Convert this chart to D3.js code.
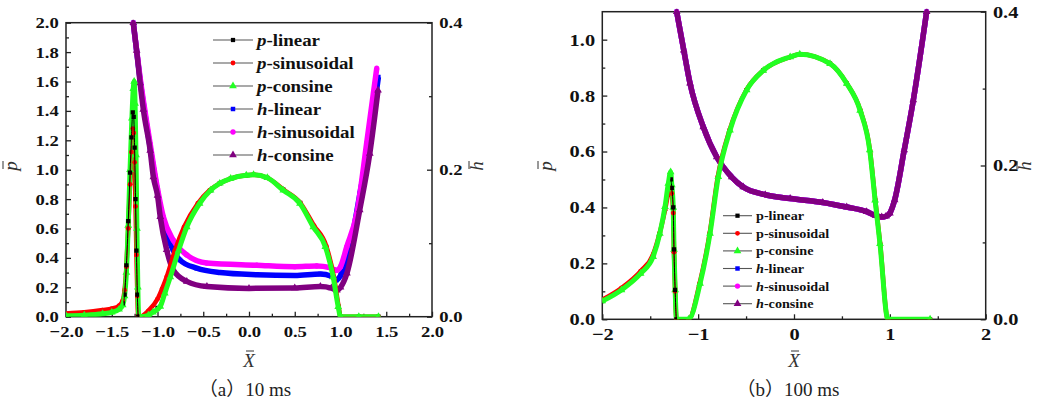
<!DOCTYPE html>
<html><head><meta charset="utf-8">
<script src="https://cdn.jsdelivr.net/npm/d3@7"></script>
<style>body{margin:0;background:#fff}svg{display:block}</style>
</head><body>
<svg id="chart" width="1043" height="403"></svg>
<script>
// ---------- Panel (a) 10 ms : [X, value] ----------
const aPLinear = [[-2.0,0.01],[-1.8,0.018],[-1.6,0.03],[-1.5,0.04],[-1.42,0.06],[-1.38,0.09],[-1.36,0.15],[-1.34,0.35],[-1.32,0.65],[-1.30,0.98],[-1.285,1.22],[-1.27,1.39],[-1.26,1.36],[-1.25,1.15],[-1.24,0.8],[-1.23,0.45],[-1.22,0.15],[-1.21,0.0],[-1.19,0.0],[-1.1,0.015],[-1.0,0.06],[-0.93,0.16],[-0.87,0.27],[-0.78,0.45],[-0.69,0.61],[-0.55,0.77],[-0.42,0.86],[-0.32,0.907],[-0.2,0.94],[-0.03,0.962],[0.05,0.965],[0.2,0.945],[0.375,0.865],[0.56,0.775],[0.71,0.615],[0.84,0.48],[0.925,0.27],[0.978,0.068],[1.0,0.0],[1.2,0.0],[1.415,0.0]];
const aPSinusoidal = [[-2.0,0.022],[-1.8,0.03],[-1.6,0.045],[-1.5,0.055],[-1.42,0.075],[-1.38,0.11],[-1.36,0.18],[-1.34,0.34],[-1.32,0.6],[-1.30,0.9],[-1.285,1.12],[-1.27,1.28],[-1.26,1.25],[-1.25,1.05],[-1.24,0.75],[-1.23,0.42],[-1.22,0.14],[-1.21,0.0],[-1.19,0.0],[-1.1,0.04],[-1.0,0.12],[-0.95,0.19],[-0.9,0.27],[-0.81,0.45],[-0.71,0.61],[-0.56,0.77],[-0.43,0.86],[-0.32,0.907],[-0.2,0.94],[-0.03,0.962],[0.05,0.965],[0.2,0.945],[0.375,0.865],[0.56,0.775],[0.71,0.62],[0.845,0.48],[0.928,0.27],[0.98,0.068],[1.0,0.0],[1.2,0.0],[1.415,0.0]];
const aPConsine = [[-2.0,0.006],[-1.8,0.01],[-1.6,0.02],[-1.5,0.03],[-1.42,0.05],[-1.38,0.08],[-1.36,0.14],[-1.34,0.3],[-1.32,0.62],[-1.30,1.0],[-1.28,1.35],[-1.265,1.55],[-1.255,1.6],[-1.245,1.45],[-1.235,1.1],[-1.225,0.6],[-1.215,0.2],[-1.205,0.0],[-1.19,0.0],[-1.1,0.01],[-1.05,0.03],[-0.97,0.07],[-0.92,0.16],[-0.86,0.27],[-0.77,0.45],[-0.68,0.61],[-0.54,0.77],[-0.42,0.86],[-0.32,0.907],[-0.2,0.94],[-0.03,0.962],[0.05,0.965],[0.2,0.945],[0.375,0.86],[0.557,0.77],[0.703,0.61],[0.834,0.476],[0.92,0.27],[0.975,0.068],[1.0,0.0],[1.2,0.0],[1.415,0.0]];
const aHLinear = [[-1.265,0.4],[-1.19,0.322],[-1.08,0.23],[-1.0,0.17],[-0.94,0.13],[-0.863,0.1],[-0.754,0.077],[-0.572,0.066],[-0.317,0.06],[0.085,0.057],[0.5,0.056],[0.78,0.058],[0.9,0.055],[0.958,0.05],[1.0,0.056],[1.104,0.095],[1.213,0.168],[1.322,0.244],[1.414,0.326]];
const aHSinusoidal = [[-1.265,0.4],[-1.19,0.325],[-1.08,0.235],[-1.0,0.174],[-0.937,0.136],[-0.827,0.104],[-0.68,0.084],[-0.462,0.073],[0.085,0.07],[0.5,0.068],[0.74,0.069],[0.88,0.067],[0.94,0.0636],[0.96,0.063],[1.0,0.068],[1.068,0.095],[1.177,0.14],[1.286,0.236],[1.396,0.338]];
const aHConsine = [[-1.265,0.4],[-1.228,0.362],[-1.19,0.318],[-1.155,0.282],[-1.08,0.226],[-1.045,0.19],[-1.0,0.165],[-0.97,0.136],[-0.9,0.091],[-0.83,0.064],[-0.68,0.048],[-0.46,0.041],[0.0,0.0385],[0.5,0.039],[0.78,0.041],[0.9,0.039],[0.96,0.036],[1.0,0.04],[1.07,0.059],[1.21,0.145],[1.32,0.222],[1.41,0.308]];

// ---------- Panel (b) 100 ms ----------
const bPLinear = [[-2.0,0.065],[-1.8,0.105],[-1.6,0.165],[-1.47,0.224],[-1.4,0.305],[-1.346,0.395],[-1.311,0.47],[-1.285,0.5],[-1.275,0.47],[-1.26,0.4],[-1.252,0.25],[-1.24,0.105],[-1.226,0.0],[-1.1,0.0],[-0.98,0.128],[-0.876,0.307],[-0.79,0.51],[-0.668,0.676],[-0.494,0.82],[-0.32,0.89],[-0.04,0.938],[0.06,0.948],[0.376,0.914],[0.55,0.843],[0.69,0.747],[0.79,0.605],[0.846,0.426],[0.897,0.27],[0.98,0.0],[1.42,0.0]];
const bPSinusoidal = [[-2.0,0.07],[-1.8,0.112],[-1.6,0.172],[-1.47,0.232],[-1.4,0.31],[-1.346,0.39],[-1.311,0.45],[-1.285,0.47],[-1.275,0.45],[-1.26,0.38],[-1.252,0.24],[-1.24,0.1],[-1.226,0.0],[-1.1,0.0],[-0.985,0.128],[-0.88,0.307],[-0.795,0.51],[-0.672,0.676],[-0.497,0.82],[-0.32,0.89],[-0.04,0.938],[0.06,0.948],[0.376,0.914],[0.552,0.843],[0.692,0.747],[0.792,0.605],[0.848,0.426],[0.899,0.27],[0.98,0.0],[1.42,0.0]];
const bPConsine = [[-2.0,0.065],[-1.8,0.105],[-1.6,0.164],[-1.47,0.224],[-1.4,0.307],[-1.346,0.402],[-1.311,0.486],[-1.287,0.527],[-1.275,0.48],[-1.26,0.4],[-1.252,0.25],[-1.24,0.105],[-1.226,0.0],[-1.1,0.0],[-0.98,0.128],[-0.876,0.307],[-0.79,0.51],[-0.668,0.676],[-0.494,0.82],[-0.32,0.89],[-0.04,0.938],[0.06,0.948],[0.376,0.914],[0.55,0.843],[0.69,0.747],[0.79,0.605],[0.846,0.426],[0.897,0.27],[0.98,0.0],[1.42,0.0]];
const bHLinear = [[-1.224,0.4],[-1.15,0.35],[-1.085,0.307],[-0.946,0.25],[-0.806,0.211],[-0.65,0.185],[-0.53,0.172],[-0.3,0.162],[-0.04,0.157],[0.3,0.152],[0.55,0.146],[0.758,0.14],[0.85,0.135],[0.915,0.133],[0.96,0.134],[1.0,0.138],[1.05,0.155],[1.15,0.22],[1.245,0.285],[1.384,0.4]];
const bHSinusoidal = [[-1.224,0.4],[-1.15,0.35],[-1.085,0.307],[-0.946,0.25],[-0.806,0.211],[-0.65,0.185],[-0.53,0.172],[-0.3,0.162],[-0.04,0.157],[0.3,0.152],[0.55,0.146],[0.758,0.14],[0.85,0.135],[0.915,0.133],[0.96,0.134],[1.0,0.138],[1.05,0.155],[1.15,0.22],[1.245,0.285],[1.384,0.4]];
const bHConsine = [[-1.224,0.4],[-1.15,0.35],[-1.085,0.307],[-0.946,0.25],[-0.806,0.211],[-0.65,0.185],[-0.53,0.172],[-0.3,0.162],[-0.04,0.157],[0.3,0.152],[0.55,0.146],[0.758,0.14],[0.85,0.135],[0.915,0.133],[0.96,0.134],[1.0,0.138],[1.05,0.155],[1.15,0.22],[1.245,0.285],[1.384,0.4]];

// ---------- Ticks / labels ----------
const aXTicks = [-2.0,-1.5,-1.0,-0.5,0.0,0.5,1.0,1.5,2.0];
const aPTicks = [0.0,0.2,0.4,0.6,0.8,1.0,1.2,1.4,1.6,1.8,2.0];
const aHTicks = [0.0,0.2,0.4];
const bXTicks = [-2,-1,0,1,2];
const bPTicks = [0.0,0.2,0.4,0.6,0.8,1.0];
const bHTicks = [0.0,0.2,0.4];
const seriesNames = ["linear","sinusoidal","consine"];
const captions = ["（a）10 ms","（b）100 ms"];

const svg = d3.select("#chart");
const SERIF = "'Liberation Serif','Times New Roman',serif";
const styles = [
  {pre:"p", color:"#000000", sym:d3.symbolSquare, size:18, band:1},
  {pre:"p", color:"#ff0000", sym:d3.symbolCircle, size:18, band:4.5},
  {pre:"p", color:"#22ff22", sym:d3.symbolTriangle, size:26, band:5},
  {pre:"h", color:"#0000ff", sym:d3.symbolSquare, size:20, band:5.5},
  {pre:"h", color:"#ff00ff", sym:d3.symbolCircle, size:22, band:5.5},
  {pre:"h", color:"#800080", sym:d3.symbolTriangle, size:26, band:5.5}
];

function panel(cfg, id){
  const x = d3.scaleLinear().domain(cfg.xDom).range([cfg.L, cfg.R]);
  const yp = d3.scaleLinear().domain(cfg.pDom).range([cfg.B, cfg.T]);
  const yh = d3.scaleLinear().domain([0,0.4]).range([cfg.B, cfg.T]);
  const g = svg.append("g");
  g.append("clipPath").attr("id","clip"+id).append("rect")
    .attr("x",cfg.L).attr("y",cfg.T-3).attr("width",cfg.R-cfg.L).attr("height",cfg.B-cfg.T+3);
  // window around the narrow pressure spike, where the thin p-linear line and markers show on top
  g.append("clipPath").attr("id","spike"+id).append("rect")
    .attr("x",x(cfg.spike[0])).attr("y",cfg.T).attr("width",x(cfg.spike[1])-x(cfg.spike[0])).attr("height",cfg.B-cfg.T);

  const xAx = d3.axisBottom(x).tickValues(cfg.xTicks).tickSize(-5).tickFormat(cfg.xFmt).tickPadding(9);
  const xMinor = d3.axisBottom(x).tickValues(cfg.xMinor).tickSize(-3).tickFormat("");
  const pAx = d3.axisLeft(yp).tickValues(cfg.pTicks).tickSize(-5).tickFormat(d3.format(".1f")).tickPadding(6);
  const pMinor = d3.axisLeft(yp).tickValues(cfg.pMinor).tickSize(-3).tickFormat("");
  const hAx = d3.axisRight(yh).tickValues(cfg.hTicks).tickSize(-5).tickFormat(d3.format(".1f")).tickPadding(6);
  const hMinor = d3.axisRight(yh).tickValues([0.1,0.3]).tickSize(-3).tickFormat("");
  const axes = [
    [xAx, `translate(0,${cfg.B})`],[xMinor, `translate(0,${cfg.B})`],
    [pAx, `translate(${cfg.L},0)`],[pMinor, `translate(${cfg.L},0)`],
    [hAx, `translate(${cfg.R},0)`],[hMinor, `translate(${cfg.R},0)`]
  ];
  axes.forEach(([ax,tr])=>{
    const a = g.append("g").attr("transform",tr).call(ax);
    a.select(".domain").remove();
    a.selectAll("line").attr("stroke","#222").attr("stroke-width",1.3);
    a.selectAll("text").attr("font-family",SERIF).attr("font-weight","bold")
      .attr("font-size",cfg.tickFont).attr("fill","#111")
      .attr("transform",`scale(${cfg.tickSx},1)`);
  });
  g.append("rect").attr("x",cfg.L).attr("y",cfg.T).attr("width",cfg.R-cfg.L).attr("height",cfg.B-cfg.T)
    .attr("fill","none").attr("stroke","#222").attr("stroke-width",1.5);

  const plotG = g.append("g").attr("clip-path",`url(#clip${id})`);
  function drawSeries(target, i, withBand){
    const st = styles[i];
    const yS = i<3 ? yp : yh;
    const data = cfg.series[i];
    const line = d3.line().x(d=>x(d[0])).y(d=>yS(d[1])).curve(d3.curveMonotoneX);
    target.append("path").attr("d",line(data)).attr("fill","none")
      .attr("stroke",st.color).attr("stroke-width",withBand?st.band:1).attr("stroke-linejoin","round");
    target.selectAll(null).data(data).enter().append("path")
      .attr("d",d3.symbol().type(st.sym).size(st.size))
      .attr("transform",d=>`translate(${x(d[0])},${yS(d[1])})`)
      .attr("fill",st.color);
  }
  [3,4,5,0,1,2].forEach(i=>drawSeries(plotG,i,true));
  const spikeG = g.append("g").attr("clip-path",`url(#spike${id})`);
  drawSeries(spikeG,1,false);
  drawSeries(spikeG,0,false);

  styles.forEach((st,i)=>{
    const ly = cfg.legY + i*cfg.legDy;
    g.append("line").attr("x1",cfg.legX).attr("x2",cfg.legX+cfg.legW).attr("y1",ly).attr("y2",ly)
      .attr("stroke","#555").attr("stroke-width",1.1);
    g.append("path").attr("d",d3.symbol().type(st.sym).size(st.size))
      .attr("transform",`translate(${cfg.legX+cfg.legW/2},${ly})`).attr("fill",st.color);
    const tx = cfg.legX+cfg.legW+4;
    const t = g.append("text").attr("x",0).attr("y",0)
      .attr("transform",`translate(${tx},${ly+cfg.legFont*0.33}) scale(${cfg.legSx},1)`)
      .attr("font-family",SERIF).attr("font-weight","bold").attr("font-size",cfg.legFont).attr("fill","#111");
    const italic = st.pre==="h" || cfg.legItalicP;
    t.append("tspan").attr("font-style",italic?"italic":"normal").text(st.pre);
    t.append("tspan").text("-"+seriesNames[i%3]);
  });

  function barTitle(letter, cx, cy, rot){
    const tg = g.append("g").attr("transform",`translate(${cx},${cy}) rotate(${rot})`);
    tg.append("text").attr("x",0).attr("y",5).attr("text-anchor","middle")
      .attr("font-family",SERIF).attr("font-style","italic").attr("font-size",19).attr("fill","#333").text(letter);
    tg.append("line").attr("x1",-3).attr("x2",5).attr("y1",rot? -9 : -11).attr("y2",rot? -9 : -11)
      .attr("stroke","#333").attr("stroke-width",1);
  }
  barTitle("p", cfg.pTitleX, 166, -90);
  barTitle("h", cfg.hTitleX, 166, -90);
  barTitle("X", (cfg.L+cfg.R)/2, 362, 0);

  svg.append("text").attr("x",cfg.capX).attr("y",396).attr("text-anchor","middle")
    .attr("font-family","'Liberation Serif','Noto Sans CJK SC',serif").attr("font-size",19).attr("fill","#222").text(captions[id]);
}

panel({
  L:66, R:432, T:22.7, B:316.7, xDom:[-2,2], pDom:[0,2], spike:[-1.37,-1.2],
  xTicks:aXTicks, xMinor:[-1.75,-1.25,-0.75,-0.25,0.25,0.75,1.25,1.75], xFmt:d3.format(".1f"),
  pTicks:aPTicks, pMinor:d3.range(1,20,2).map(v=>v/10), hTicks:aHTicks,
  series:[aPLinear,aPSinusoidal,aPConsine,aHLinear,aHSinusoidal,aHConsine],
  tickFont:15.5, tickSx:1.2,
  legX:213, legW:40, legY:40, legDy:23, legFont:17.5, legSx:1.08, legItalicP:true,
  pTitleX:12, hTitleX:478, capX:245
}, 0);

panel({
  L:602.3, R:985.7, T:11.7, B:319.3, xDom:[-2,2], pDom:[0,1.1], spike:[-1.29,-1.22],
  xTicks:bXTicks, xMinor:[-1.5,-0.5,0.5,1.5], xFmt:d3.format("d"),
  pTicks:bPTicks, pMinor:[0.1,0.3,0.5,0.7,0.9], hTicks:bHTicks,
  series:[bPLinear,bPSinusoidal,bPConsine,bHLinear,bHSinusoidal,bHConsine],
  tickFont:17, tickSx:1.2,
  legX:723, legW:29, legY:215.7, legDy:17.6, legFont:13.5, legSx:1.05, legItalicP:false,
  pTitleX:547, hTitleX:1026, capX:788
}, 1);
</script>
</body></html>
